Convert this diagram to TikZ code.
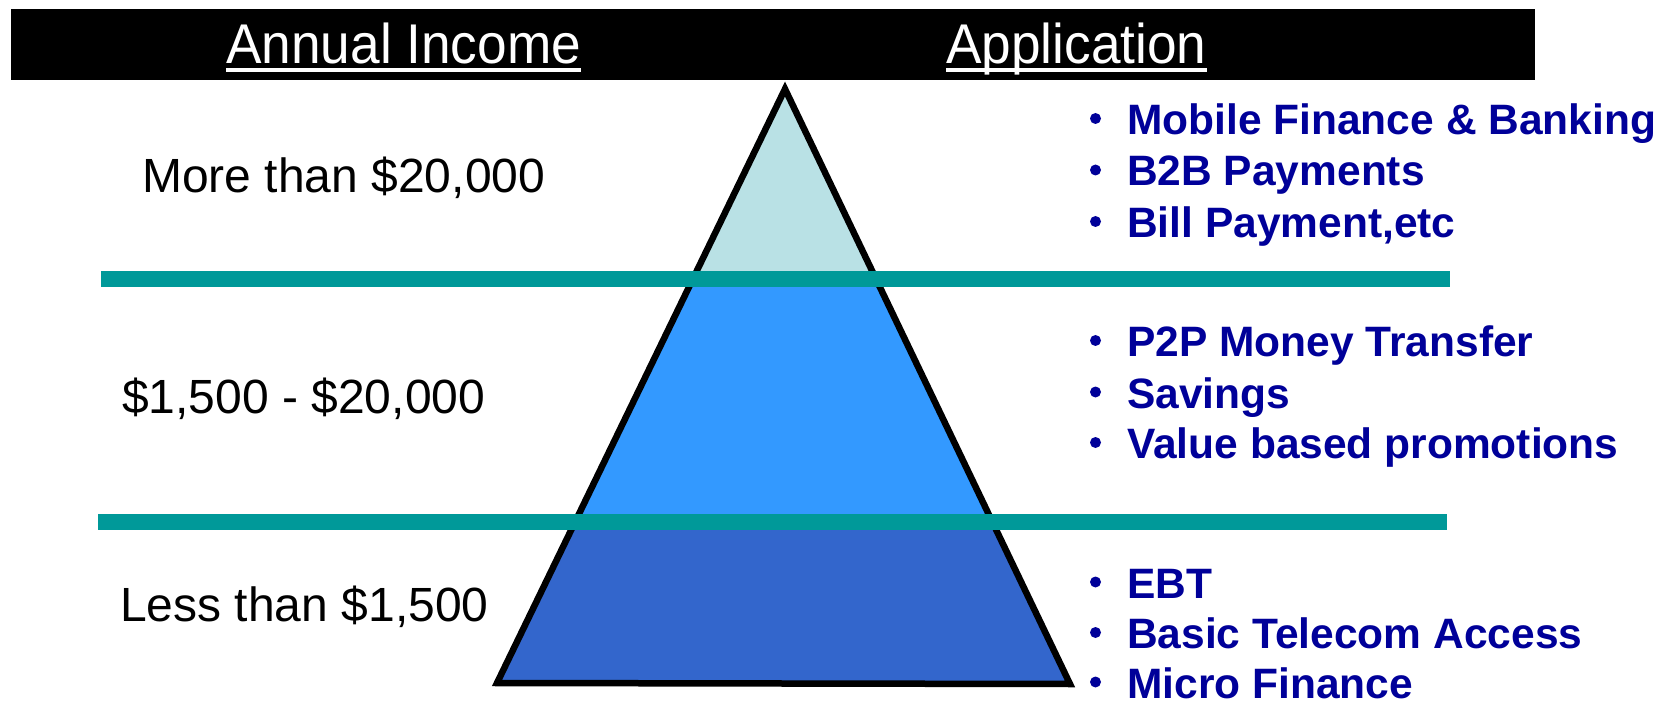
\documentclass[tikz,border=0pt]{standalone}
\usepackage{fontspec}
\setmainfont{Liberation Sans}
\newfontfamily\hdrfont[FakeStretch=0.95]{Liberation Sans}
\definecolor{toplight}{HTML}{B9E1E5}
\definecolor{midblue}{HTML}{3399FF}
\definecolor{lowblue}{HTML}{3366CC}
\definecolor{tealbar}{HTML}{009999}
\definecolor{appblue}{HTML}{000099}
\tikzset{
  hdr/.style={text=white,font=\hdrfont\fontsize{56}{60}\selectfont,inner sep=0pt,anchor=base west},
  income/.style={text=black,font=\fontsize{48}{52}\selectfont,inner sep=0pt,anchor=base west},
  app/.style={text=appblue,font=\bfseries\fontsize{42.5}{46}\selectfont,inner sep=0pt,anchor=base west},
  dot/.style={circle,fill=appblue,inner sep=0pt,minimum size=11pt},
  band/.style={line width=16.5pt,draw=tealbar},
}
\begin{document}
\begin{tikzpicture}[x=1pt,y=-1pt]
\useasboundingbox (0,0) rectangle (1674,703);
% header bar
\fill[black] (11,9) rectangle (1535,80);
\node[hdr] (h1) at (226,64) {Annual Income};
\node[hdr] (h2) at (946,64) {Application};
\draw[white,line width=4pt] ([yshift=-6pt]h1.base west) -- ([yshift=-6pt]h1.base east);
\draw[white,line width=4pt] ([yshift=-6pt]h2.base west) -- ([yshift=-6pt]h2.base east);
% triangle
\coordinate (apex) at (785,89);
\coordinate (bl) at (497,683);
\coordinate (br) at (1070,684);
\begin{scope}
\clip (apex) -- (br) -- (bl) -- cycle;
\fill[toplight] (480,60) rectangle (1090,279);
\fill[midblue] (480,279) rectangle (1090,522);
\fill[lowblue] (480,522) rectangle (1090,700);
\end{scope}
\draw[line width=6.5pt,line join=miter] (apex) -- (br) -- (bl) -- cycle;
% teal bands
\coordinate (b1l) at (101,279);
\coordinate (b1r) at (1450,279);
\coordinate (b2l) at (98,522);
\coordinate (b2r) at (1447,522);
\draw[band] (b1l) -- (b1r);
\draw[band] (b2l) -- (b2r);
% income labels
\node[income] (i1) at (142,193) {More than \$20,000};
\node[income] (i2) at (122,413.5) {\$1,500 - \$20,000};
\node[income] (i3) at (120,621.5) {Less than \$1,500};
% applications
\foreach \n/\y/\t in {a1/134.5/Mobile Finance \& Banking, a2/186/B2B Payments, a3/237.5/{Bill Payment,etc},
  a4/356.5/P2P Money Transfer, a5/408/Savings, a6/458.5/Value based promotions,
  a7/598/EBT, a8/648.5/Basic Telecom Access, a9/698/Micro Finance}{
  \node[app] (\n) at (1127,\y) {\t};
  \node[dot] (\n d) at (1095.5,\y-16) {};
}
\end{tikzpicture}
\end{document}
